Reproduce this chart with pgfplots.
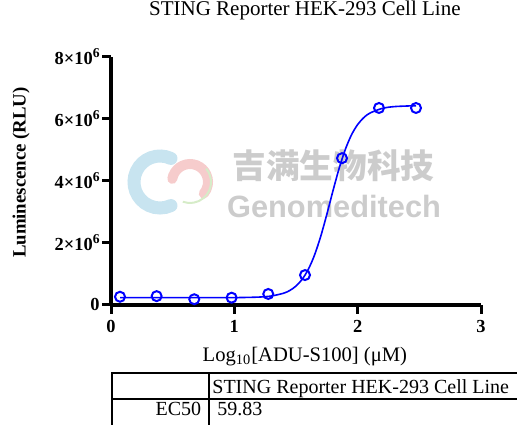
\documentclass[border=0pt]{standalone}
\usepackage{pgfplots}
\pgfplotsset{compat=1.18}
\usetikzlibrary{backgrounds}
\usepackage{fontspec}
\setmainfont{Liberation Serif}
\newfontfamily\cjk{Noto Sans CJK SC}
\newfontfamily\wmsans{Liberation Sans}
\definecolor{ptblue}{RGB}{0,0,255}
\definecolor{wmgray}{RGB}{204,204,204}
\definecolor{wmblue}{RGB}{200,228,240}
\definecolor{wmpink}{RGB}{246,204,204}
\definecolor{wmgreen}{RGB}{214,236,200}
\newcommand{\sixth}{\raisebox{0.85ex}{\fontsize{6.8}{7}\selectfont 6}}
\begin{document}
\begin{tikzpicture}
\useasboundingbox (0,0) rectangle (258.5pt,-212pt);
\begin{axis}[
  at={(55.5pt,-152.25pt)}, anchor=south west,
  scale only axis, width=185pt, height=124pt,
  xmin=0, xmax=3, ymin=0, ymax=8000000,
  axis lines=left,
  axis line style={black, line width=2pt, -},
  tick style={black, line width=1.5pt},
  major tick length=4.5pt,
  tick align=outside,
  xtick={0,1,2,3}, xticklabels={0,1,2,3},
  ytick={0,2000000,4000000,6000000,8000000},
  yticklabels={0,2×10\sixth,4×10\sixth,6×10\sixth,8×10\sixth},
  scaled y ticks=false,
  ticklabel style={font=\bfseries\fontsize{9.2}{10}\selectfont},
  yticklabel style={inner sep=1pt},
  clip=false,
  title={STING Reporter HEK-293 Cell Line},
  title style={at={(rel axis cs:0.524,1.115)}, anchor=base, font=\fontsize{10.5}{12}\selectfont},
  xlabel={Log\textsubscript{10}[ADU-S100] (μM)},
  xlabel style={at={(rel axis cs:0.524,-0.231)}, anchor=base, font=\fontsize{10.3}{12}\selectfont},
  ylabel={Luminescence (RLU)},
  ylabel style={at={(rel axis cs:-0.243,0.532)}, anchor=center, rotate=0, font=\bfseries\fontsize{9.4}{11}\selectfont},
]
\addplot[ptblue, line width=0.8pt, smooth, no marks] coordinates {
(0.073,222000) (0.4,222000) (0.7,222000) (1.0,222800) (1.2,240000) (1.3,275000)
(1.4,365000) (1.45,454000) (1.5,596000) (1.55,813000) (1.6,1136000) (1.65,1593000)
(1.7,2193000) (1.75,2909000) (1.8,3672000) (1.85,4395000) (1.9,5004000) (1.95,5474000)
(2.0,5806000) (2.05,6031000) (2.1,6177000) (2.2,6327000) (2.3,6385000) (2.473,6413000)};
\addplot[only marks, mark=o, mark size=2.5pt, ptblue, mark options={line width=1pt}] coordinates {
(0.073,250000) (0.37,270000) (0.675,170000) (0.978,220000) (1.275,340000)
(1.573,950000) (1.873,4720000) (2.173,6340000) (2.473,6340000)};
\end{axis}
% watermark, behind the chart
\begin{scope}[on background layer]
\draw[wmblue, line width=6.5pt, line cap=round] (80pt,-91pt) ++(65:13pt) arc[start angle=65, end angle=295, radius=13pt];
\draw[wmpink, line width=5pt, line cap=round] (95pt,-91pt) ++(170:9pt) arc[start angle=170, end angle=-40, radius=9pt];
\draw[wmgreen, line width=1pt] (95pt,-91pt) ++(40:10.5pt) arc[start angle=40, end angle=-110, radius=10.5pt];
\node[text=wmgray, font=\cjk\bfseries\fontsize{16.8}{18}\selectfont, anchor=center] at (166.75pt,-83pt) {吉满生物科技};
\node[text=wmgray, font=\wmsans\bfseries\fontsize{15.4}{17}\selectfont, anchor=base] at (167pt,-108.5pt) {Genomeditech};
\end{scope}
% table
\begin{scope}
\clip (0,0) rectangle (258.5pt,-212pt);
\draw[line width=1pt] (270pt,-186.7pt) -- (55.8pt,-186.7pt) -- (55.8pt,-220pt);
\draw[line width=1pt] (55.8pt,-199.5pt) -- (270pt,-199.5pt);
\draw[line width=1pt] (104.7pt,-186.7pt) -- (104.7pt,-220pt);
\end{scope}
\node[anchor=base west, inner sep=0pt, font=\fontsize{10}{12}\selectfont] at (106pt,-196.5pt) {STING Reporter HEK-293 Cell Line};
\node[anchor=base east, inner sep=0pt, font=\fontsize{10}{12}\selectfont] at (100.8pt,-207.5pt) {EC50};
\node[anchor=base west, inner sep=0pt, font=\fontsize{10}{12}\selectfont] at (108.5pt,-207.5pt) {59.83};
\end{tikzpicture}
\end{document}
